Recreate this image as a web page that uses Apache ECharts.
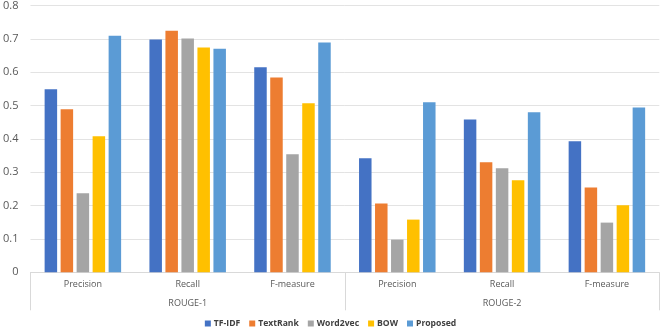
<!DOCTYPE html>
<html><head><meta charset="utf-8">
<script src="https://cdn.jsdelivr.net/npm/echarts@6/dist/echarts.min.js"></script>
<style>html,body{margin:0;padding:0;background:#fff}#c{width:661px;height:328px}</style>
</head><body><div id="c"></div>
<script>
const categories = ['Precision','Recall','F-measure','Precision','Recall','F-measure'];
const groups = ['ROUGE-1','ROUGE-2'];
const yTicks = {min:0, max:0.8, interval:0.1};
const seriesNames = ['TF-IDF','TextRank','Word2vec','BOW','Proposed'];
const tfidf    = [0.549, 0.698, 0.615, 0.342, 0.458, 0.393];
const textrank = [0.489, 0.724, 0.584, 0.206, 0.330, 0.254];
const word2vec = [0.237, 0.701, 0.354, 0.098, 0.312, 0.149];
const bow      = [0.408, 0.674, 0.507, 0.158, 0.276, 0.201];
const proposed = [0.709, 0.670, 0.689, 0.510, 0.480, 0.494];
const colors = ['#4472C4','#ED7D31','#A5A5A5','#FFC000','#5B9BD5'];
const values = [tfidf, textrank, word2vec, bow, proposed];

const font = 'Open Sans, Liberation Sans, sans-serif';
const chart = echarts.init(document.getElementById('c'));
chart.setOption({
  animation:false,
  color: colors,
  grid:{left:29.3, right:1.7, top:4.7, bottom:55.7, containLabel:false},
  legend:{
    top:314, left:'center', icon:'rect', itemWidth:6, itemHeight:6, itemGap:9,
    textStyle:{fontFamily:font, fontSize:8.6, fontWeight:'bold', color:'#404040', padding:[0,0,0,-2]},
    data: seriesNames
  },
  xAxis:[{
    type:'category', data:categories, position:'bottom',
    axisLine:{show:true, lineStyle:{color:'#d9d9d9'}},
    axisTick:{show:false},
    axisLabel:{fontFamily:font, fontSize:9, color:'#595959', margin:8}
  },{
    type:'category', data:groups, position:'bottom',
    axisLine:{show:false},
    axisTick:{show:true, length:38, lineStyle:{color:'#d9d9d9'}},
    axisLabel:{fontFamily:font, fontSize:9, color:'#595959', margin:27}
  }],
  yAxis:{
    type:'value', min:yTicks.min, max:yTicks.max, interval:yTicks.interval,
    axisLine:{show:false}, axisTick:{show:false},
    splitLine:{lineStyle:{color:'#e3e3e3'}},
    axisLabel:{fontFamily:font, fontSize:11, color:'#595959', margin:12}
  },
  series: seriesNames.map((n,i)=>({
    name:n, type:'bar', xAxisIndex:0, data:values[i],
    barWidth:12.5, barGap:'28%',
    itemStyle:{color:colors[i]}
  }))
});
</script></body></html>
